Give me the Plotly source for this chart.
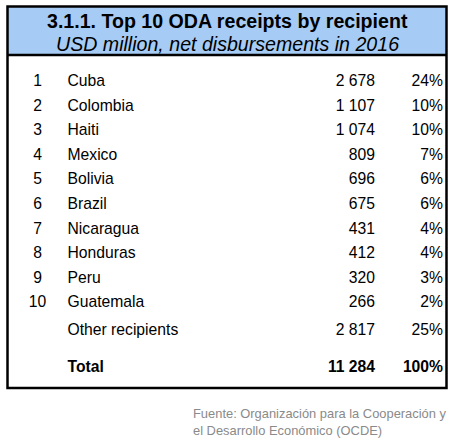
import plotly.graph_objects as go

# table data
ranks = ["1", "2", "3", "4", "5", "6", "7", "8", "9", "10"]
recipients = ["Cuba", "Colombia", "Haiti", "Mexico", "Bolivia", "Brazil",
              "Nicaragua", "Honduras", "Peru", "Guatemala"]
usd_million = [2678, 1107, 1074, 809, 696, 675, 431, 412, 320, 266]
shares = [24, 10, 10, 7, 6, 6, 4, 4, 3, 2]
other_label = "Other recipients"
other_value = 2817
other_share = 25
total_label = "Total"
total_value = 11284
total_share = 100

title = "3.1.1. Top 10 ODA receipts by recipient"
subtitle = "USD million, net disbursements in 2016"
source_lines = ["Fuente: Organización para la Cooperación y",
                "el Desarrollo Económico (OCDE)"]

W, H = 456, 441
FONT = "Liberation Sans, Arial, sans-serif"
BODY = 15.7
HEADER_BLUE = "#a6ccf5"

# layout in pixel units (x from left, y from top)
X_RANK, X_NAME, X_VAL, X_PCT = 37.5, 67.5, 375, 443
ROW0, ROW_STEP = 82, 24.6
Y_OTHER, Y_TOTAL = 331, 368.5


def fmt(v):
    return f"{v:,}".replace(",", " ")


row_y = [ROW0 + i * ROW_STEP for i in range(len(recipients))]

fig = go.Figure()


def text_col(xs, ys, texts, pos, bold=False):
    fig.add_trace(go.Scatter(
        x=xs, y=ys, text=texts, mode="text", textposition=pos,
        textfont=dict(family=FONT, size=BODY, color="black",
                      weight="bold" if bold else "normal"),
        hoverinfo="skip", showlegend=False,
    ))


n = len(recipients)
text_col([X_RANK] * n, row_y, ranks, "middle center")
text_col([X_NAME] * (n + 1), row_y + [Y_OTHER], recipients + [other_label], "middle right")
text_col([X_VAL] * (n + 1), row_y + [Y_OTHER],
         [fmt(v) for v in usd_million + [other_value]], "middle left")
text_col([X_PCT] * (n + 1), row_y + [Y_OTHER],
         [f"{s}%" for s in shares + [other_share]], "middle left")
text_col([X_NAME], [Y_TOTAL], [total_label], "middle right", bold=True)
text_col([X_VAL], [Y_TOTAL], [fmt(total_value)], "middle left", bold=True)
text_col([X_PCT], [Y_TOTAL], [f"{total_share}%"], "middle left", bold=True)

fig.add_shape(type="rect", x0=7.5, x1=446.5, y0=6.5, y1=55,
              fillcolor=HEADER_BLUE, line_width=0, layer="below")
fig.add_shape(type="rect", x0=7.5, x1=446.5, y0=6.5, y1=388,
              line=dict(color="black", width=2.5))
fig.add_shape(type="line", x0=7.5, x1=446.5, y0=55, y1=55,
              line=dict(color="black", width=2.5))

fig.add_annotation(x=227, y=20.5, text=f"<b>{title}</b>", showarrow=False,
                   font=dict(family=FONT, size=19.6, color="black"))
fig.add_annotation(x=227, y=44, text=f"<i>{subtitle}</i>", showarrow=False,
                   font=dict(family=FONT, size=19.6, color="black"))
fig.add_annotation(x=192, y=421.5, text="<br>".join(source_lines), showarrow=False,
                   xanchor="left", align="left", borderpad=0,
                   font=dict(family=FONT, size=12.9, color="#8a8a8a"))

fig.update_layout(
    width=W, height=H, margin=dict(l=0, r=0, t=0, b=0),
    paper_bgcolor="white", plot_bgcolor="white",
    xaxis=dict(range=[0, W], visible=False, fixedrange=True),
    yaxis=dict(range=[H, 0], visible=False, fixedrange=True),
)

fig.write_html("out.html", config={"displayModeBar": False},
               post_script="document.body.style.margin='0';")
